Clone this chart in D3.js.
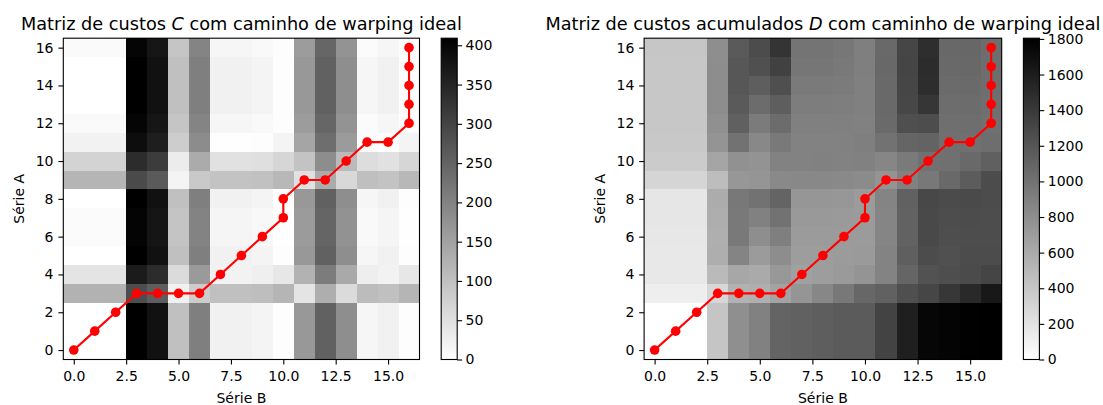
<!DOCTYPE html>
<html>
<head>
<meta charset="utf-8">
<script src="https://cdn.jsdelivr.net/npm/d3@7/dist/d3.min.js"></script>
<style>
  html, body { margin: 0; padding: 0; background: #fff; }
  svg { display: block; font-family: "DejaVu Sans", sans-serif; }
</style>
</head>
<body>
<svg id="chart" width="1103" height="405"></svg>
<script>
"use strict";
// Matriz de custos C: linha i = índice da Série A (de baixo para cima), coluna j = índice da Série B
const custosC = [
  [0, 0, 0, 409, 382, 101, 205, 22, 22, 18, 4, 166, 253, 181, 15, 22, 4],
  [0, 0, 0, 409, 382, 101, 205, 22, 22, 18, 4, 166, 253, 181, 15, 22, 4],
  [0, 0, 0, 409, 382, 101, 205, 22, 22, 18, 4, 166, 253, 181, 15, 22, 4],
  [123, 123, 123, 286, 259, 22, 82, 101, 101, 105, 119, 43, 130, 58, 108, 101, 119],
  [43, 43, 43, 366, 339, 58, 162, 21, 21, 25, 39, 123, 210, 138, 28, 21, 39],
  [0, 0, 0, 409, 382, 101, 205, 22, 22, 18, 4, 166, 253, 181, 15, 22, 4],
  [6, 6, 6, 403, 376, 95, 199, 16, 16, 12, 2, 160, 247, 175, 9, 16, 2],
  [6, 6, 6, 403, 376, 95, 199, 16, 16, 12, 2, 160, 247, 175, 9, 16, 2],
  [0, 0, 0, 409, 382, 101, 205, 22, 22, 18, 4, 166, 253, 181, 15, 22, 4],
  [118, 118, 118, 291, 264, 17, 87, 96, 96, 100, 114, 48, 135, 63, 103, 96, 114],
  [70, 70, 70, 339, 312, 31, 135, 48, 48, 52, 66, 96, 183, 111, 55, 48, 66],
  [21, 21, 21, 388, 361, 80, 184, 1, 1, 3, 17, 145, 232, 160, 6, 1, 17],
  [8, 8, 8, 401, 374, 93, 197, 14, 14, 10, 4, 158, 245, 173, 7, 14, 4],
  [0, 0, 0, 409, 382, 101, 205, 22, 22, 18, 4, 166, 253, 181, 15, 22, 4],
  [0, 0, 0, 409, 382, 101, 205, 22, 22, 18, 4, 166, 253, 181, 15, 22, 4],
  [0, 0, 0, 409, 382, 101, 205, 22, 22, 18, 4, 166, 253, 181, 15, 22, 4],
  [8, 8, 8, 401, 374, 93, 197, 14, 14, 10, 4, 158, 245, 173, 7, 14, 4]
];

// Matriz de custos acumulados D (mesma orientação)
const custosD = [
  [0, 0, 0, 409, 791, 892, 1097, 1119, 1141, 1159, 1163, 1329, 1582, 1763, 1778, 1800, 1804],
  [0, 0, 0, 409, 791, 892, 1097, 1119, 1141, 1159, 1163, 1329, 1582, 1763, 1778, 1800, 1804],
  [0, 0, 0, 409, 791, 892, 1097, 1119, 1141, 1159, 1163, 1329, 1582, 1763, 1778, 1800, 1804],
  [123, 123, 123, 286, 545, 567, 649, 750, 851, 956, 1075, 1118, 1248, 1306, 1414, 1515, 1634],
  [166, 166, 166, 489, 625, 603, 729, 670, 691, 716, 755, 878, 1088, 1226, 1254, 1275, 1314],
  [166, 166, 166, 575, 871, 704, 808, 692, 692, 709, 713, 879, 1131, 1269, 1241, 1263, 1267],
  [172, 172, 172, 569, 945, 799, 903, 708, 708, 704, 706, 866, 1113, 1288, 1250, 1257, 1259],
  [178, 178, 178, 575, 945, 894, 998, 724, 724, 716, 706, 866, 1113, 1288, 1259, 1266, 1259],
  [178, 178, 178, 587, 957, 995, 1099, 746, 746, 734, 710, 872, 1119, 1294, 1274, 1281, 1263],
  [296, 296, 296, 469, 733, 750, 837, 842, 842, 834, 824, 758, 893, 956, 1059, 1155, 1269],
  [366, 366, 366, 635, 781, 764, 885, 885, 890, 886, 890, 854, 941, 1004, 1011, 1059, 1125],
  [387, 387, 387, 754, 996, 844, 948, 886, 886, 889, 903, 999, 1086, 1101, 1010, 1011, 1028],
  [395, 395, 395, 788, 1128, 937, 1041, 900, 900, 896, 893, 1051, 1244, 1259, 1017, 1024, 1015],
  [395, 395, 395, 804, 1170, 1038, 1142, 922, 922, 914, 897, 1059, 1304, 1425, 1032, 1039, 1019],
  [395, 395, 395, 804, 1186, 1139, 1243, 944, 944, 932, 901, 1063, 1312, 1485, 1047, 1054, 1023],
  [395, 395, 395, 804, 1186, 1240, 1344, 966, 966, 950, 905, 1067, 1316, 1493, 1062, 1069, 1027],
  [403, 403, 403, 796, 1170, 1263, 1437, 980, 980, 960, 909, 1063, 1308, 1481, 1069, 1076, 1031]
];

// Caminho de warping ideal (pares de índices)
const caminhoB = [0, 1, 2, 3, 4, 5, 6, 7, 8, 9, 10, 10, 11, 12, 13, 14, 15, 16, 16, 16, 16, 16];
const caminhoA = [0, 1, 2, 3, 3, 3, 3, 4, 5, 6, 7, 8, 9, 9, 10, 11, 11, 12, 13, 14, 15, 16];

const ticksX = [0, 2.5, 5, 7.5, 10, 12.5, 15];
const ticksY = [0, 2, 4, 6, 8, 10, 12, 14, 16];
const ticksBarraC = [0, 50, 100, 150, 200, 250, 300, 350, 400];
const ticksBarraD = [0, 200, 400, 600, 800, 1000, 1200, 1400, 1600, 1800];

const TOPO = 38.2;
const BASE = 359.5;
const FONTE_TICK = 14;
const FONTE_TITULO = 17.7;
const TICK = 4.9;

const svg = d3.select("#chart");

const paineis = [
  {
    matriz: custosC,
    esquerda: 63.3,
    direita: 419.5,
    barraX: 441.2,
    ticksBarra: ticksBarraC,
    titulo: ["Matriz de custos ", "C", " com caminho de warping ideal"]
  },
  {
    matriz: custosD,
    esquerda: 644.1,
    direita: 1001.7,
    barraX: 1023.4,
    ticksBarra: ticksBarraD,
    titulo: ["Matriz de custos acumulados ", "D", " com caminho de warping ideal"]
  }
];

paineis.forEach((p, k) => desenharPainel(p, k));

function estiloEixo(g) {
  g.select(".domain").remove();
  g.selectAll(".tick line").attr("stroke", "#000").attr("stroke-width", 1.1);
  g.selectAll(".tick text")
    .attr("fill", "#000")
    .style("font-size", FONTE_TICK + "px")
    .style("font-family", "DejaVu Sans, sans-serif");
}

function desenharPainel(p, k) {
  const n = p.matriz.length;
  const vmax = d3.max(p.matriz, linha => d3.max(linha));

  const x = d3.scaleLinear().domain([-0.5, n - 0.5]).range([p.esquerda, p.direita]);
  const y = d3.scaleLinear().domain([-0.5, n - 0.5]).range([BASE, TOPO]);
  // gray_r: 0 = branco, máximo = preto
  const cor = d3.scaleLinear().domain([0, vmax]).range(["#ffffff", "#000000"]);

  const g = svg.append("g").attr("class", "painel-" + k);

  // Células da matriz
  const celulas = [];
  p.matriz.forEach((linha, i) => linha.forEach((v, j) => celulas.push({ i, j, v })));
  g.append("g")
    .attr("shape-rendering", "crispEdges")
    .selectAll("rect")
    .data(celulas)
    .join("rect")
    .attr("x", d => x(d.j - 0.5))
    .attr("y", d => y(d.i + 0.5))
    .attr("width", d => x(d.j + 0.5) - x(d.j - 0.5))
    .attr("height", d => y(d.i - 0.5) - y(d.i + 0.5))
    .attr("fill", d => cor(d.v));

  // Caminho de warping
  const pontos = caminhoB.map((b, m) => [b, caminhoA[m]]);
  const linha = d3.line().x(d => x(d[0])).y(d => y(d[1]));
  g.append("path")
    .datum(pontos)
    .attr("d", linha)
    .attr("fill", "none")
    .attr("stroke", "#ff0000")
    .attr("stroke-width", 2.1);
  g.append("g")
    .selectAll("circle")
    .data(pontos)
    .join("circle")
    .attr("cx", d => x(d[0]))
    .attr("cy", d => y(d[1]))
    .attr("r", 4.8)
    .attr("fill", "#ff0000");

  // Moldura
  g.append("rect")
    .attr("x", p.esquerda)
    .attr("y", TOPO)
    .attr("width", p.direita - p.esquerda)
    .attr("height", BASE - TOPO)
    .attr("fill", "none")
    .attr("stroke", "#000")
    .attr("stroke-width", 1.1);

  // Eixos
  const eixoX = g.append("g")
    .attr("transform", `translate(0,${BASE})`)
    .call(d3.axisBottom(x).tickValues(ticksX).tickFormat(d3.format(".1f")).tickSize(TICK).tickPadding(6.2));
  estiloEixo(eixoX);

  const eixoY = g.append("g")
    .attr("transform", `translate(${p.esquerda},0)`)
    .call(d3.axisLeft(y).tickValues(ticksY).tickFormat(d3.format("d")).tickSize(TICK).tickPadding(4.9));
  estiloEixo(eixoY);

  const meio = (p.esquerda + p.direita) / 2;
  g.append("text")
    .attr("x", meio)
    .attr("y", 403)
    .attr("text-anchor", "middle")
    .style("font-size", FONTE_TICK + "px")
    .text("Série B");

  g.append("text")
    .attr("transform", `translate(${p.esquerda - 39.3},${(TOPO + BASE) / 2}) rotate(-90)`)
    .attr("text-anchor", "middle")
    .style("font-size", FONTE_TICK + "px")
    .text("Série A");

  // Título com a letra da matriz em itálico
  const titulo = g.append("text")
    .attr("x", meio)
    .attr("y", 29.5)
    .attr("text-anchor", "middle")
    .style("font-size", FONTE_TITULO + "px");
  titulo.append("tspan").text(p.titulo[0]);
  titulo.append("tspan").style("font-style", "italic").text(p.titulo[1]);
  titulo.append("tspan").text(p.titulo[2]);

  // Barra de cores
  const larguraBarra = 16;
  const idGrad = "grad-" + k;
  const grad = svg.append("defs").append("linearGradient")
    .attr("id", idGrad)
    .attr("x1", 0).attr("y1", 1).attr("x2", 0).attr("y2", 0);
  grad.append("stop").attr("offset", "0%").attr("stop-color", cor(0));
  grad.append("stop").attr("offset", "100%").attr("stop-color", cor(vmax));

  g.append("rect")
    .attr("x", p.barraX)
    .attr("y", TOPO)
    .attr("width", larguraBarra)
    .attr("height", BASE - TOPO)
    .attr("fill", `url(#${idGrad})`)
    .attr("stroke", "#000")
    .attr("stroke-width", 1.1);

  const yBarra = d3.scaleLinear().domain([0, vmax]).range([BASE, TOPO]);
  const eixoBarra = g.append("g")
    .attr("transform", `translate(${p.barraX + larguraBarra},0)`)
    .call(d3.axisRight(yBarra).tickValues(p.ticksBarra).tickFormat(d3.format("d")).tickSize(TICK).tickPadding(3.5));
  estiloEixo(eixoBarra);
}
</script>
</body>
</html>
